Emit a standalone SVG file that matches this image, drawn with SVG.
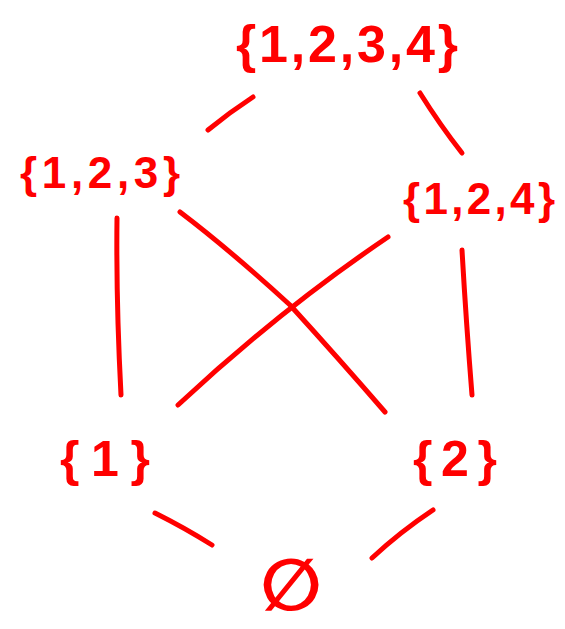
<svg xmlns="http://www.w3.org/2000/svg" width="565" height="629" viewBox="0 0 565 629">
<style>
.lbl{fill:#ff0000;font-family:"Liberation Sans","DejaVu Sans",sans-serif;font-weight:bold;}
.edge{stroke:#ff0000;stroke-width:5;stroke-linecap:round;fill:none;}
</style>
<rect width="565" height="629" fill="#ffffff"/>
<g id="connectors">
<path class="edge" d="M208,130 Q230,112 253,97"/>
<path class="edge" d="M420,93 Q440,125 462,153"/>
<path class="edge" d="M117,218 Q116,300 121,395"/>
<path class="edge" d="M180,212 Q230,250 290,305 Q340,360 385,412"/>
<path class="edge" d="M388,237 Q280,310 178,405"/>
<path class="edge" d="M462,250 Q466,320 472,395"/>
<path class="edge" d="M155,513 Q185,528 212,545"/>
<path class="edge" d="M433,510 Q400,532 372,558"/>
</g>
<g id="n1234"><text class="lbl" x="236" y="62" font-size="52" textLength="222" lengthAdjust="spacing">{1,2,3,4}</text></g>
<g id="n123"><text class="lbl" x="20" y="188" font-size="44" textLength="160" lengthAdjust="spacing">{1,2,3}</text></g>
<g id="n124"><text class="lbl" x="403" y="214" font-size="44" textLength="152" lengthAdjust="spacing">{1,2,4}</text></g>
<g id="n1"><text class="lbl" x="60" y="476" font-size="50" textLength="90" lengthAdjust="spacing">{1}</text></g>
<g id="n2"><text class="lbl" x="413" y="476" font-size="50" textLength="84" lengthAdjust="spacing">{2}</text></g>
<g id="empty"><text class="lbl" x="291" y="610" font-size="72" text-anchor="middle" style="font-family:'DejaVu Sans',sans-serif">∅</text></g>
</svg>
